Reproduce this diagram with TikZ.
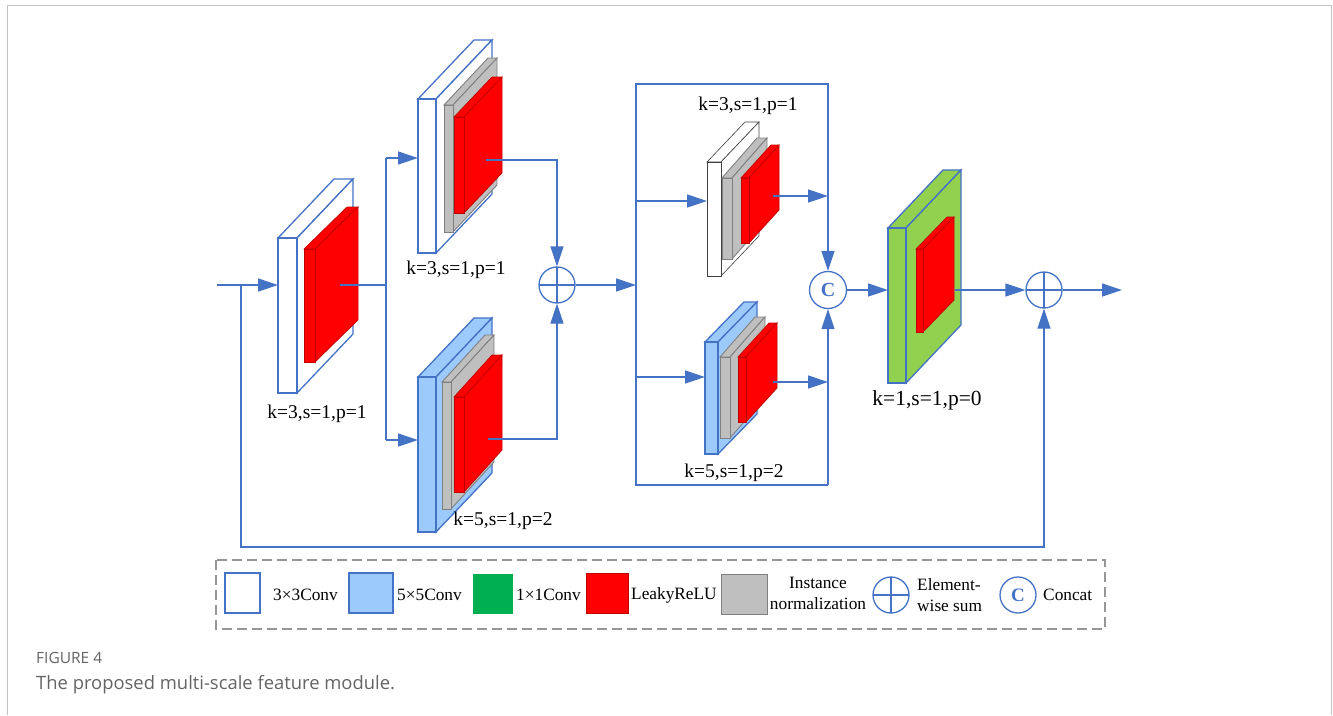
\documentclass[tikz,border=0pt]{standalone}
\usepackage{fontspec}
\setmainfont{Liberation Serif}
\newfontfamily\capfont{Open Sans}
\usetikzlibrary{arrows.meta}
\definecolor{bl}{RGB}{68,114,196}
\definecolor{lblue}{RGB}{157,202,252}
\definecolor{gfill}{RGB}{146,208,80}
\definecolor{lgreen}{RGB}{0,176,80}
\definecolor{rd}{RGB}{255,0,0}
\definecolor{rdd}{RGB}{192,0,0}
\definecolor{gr}{RGB}{191,191,191}
\definecolor{grd}{RGB}{128,128,128}
\definecolor{framec}{RGB}{195,195,195}
\definecolor{capgray}{RGB}{100,100,100}
\definecolor{dashc}{RGB}{150,150,150}
\newcommand{\blockprism}[7]{%
  \path[#7] (#1,#2) -- ({#1+#5},{#2-#6}) -- ({#3+#5},{#2-#6}) -- (#3,#2) -- cycle;
  \path[#7] (#3,#2) -- ({#3+#5},{#2-#6}) -- ({#3+#5},{#4-#6}) -- (#3,#4) -- cycle;
  \path[#7] (#1,#2) rectangle (#3,#4);
}
\tikzset{
  whiteb/.style={fill=white, draw=bl, line width=1.3pt, line join=miter},
  whitek/.style={fill=white, draw=black!75, line width=0.6pt},
  blueb/.style={fill=lblue, draw=bl, line width=1.3pt},
  grayb/.style={fill=gr, draw=grd, line width=0.9pt},
  redb/.style={fill=rd, draw=rdd, line width=0.7pt},
  greenb/.style={fill=gfill, draw=bl, line width=1.3pt},
  plain/.style={draw=bl, line width=1.3pt},
  conn/.style={plain, -{Triangle[length=20pt,width=13pt]}},
  sumnode/.style={circle, draw=bl, line width=1.3pt, minimum size=36pt, inner sep=0pt,
    path picture={\draw[bl, line width=1.3pt] (path picture bounding box.north) -- (path picture bounding box.south)
      (path picture bounding box.west) -- (path picture bounding box.east);}},
  catnode/.style={circle, draw=bl, line width=1.3pt, minimum size=37pt, inner sep=0pt,
    font=\fontsize{20}{22}\selectfont\bfseries, text=bl},
  lbl/.style={font=\fontsize{19.5}{22}\selectfont, inner sep=0pt},
  leg/.style={font=\fontsize{17.3}{21}\selectfont, inner sep=0pt},
}
\begin{document}
\begin{tikzpicture}[x=1pt, y=-1pt]
\useasboundingbox (0,0) rectangle (1333,715);
% page frame
\draw[framec, line width=1pt] (7,715) -- (7,5) -- (1331,5) -- (1331,715);

% ---- blocks ----
% first 3x3 conv
\blockprism{278}{238}{297}{393}{56}{59}{whiteb}
\blockprism{304}{249}{315}{362}{43}{42}{redb}
% top branch 3x3
\blockprism{418}{99}{436}{253}{56}{59}{whiteb}
\blockprism{444}{105}{453}{232}{44}{47}{grayb}
\blockprism{454}{117}{464}{213}{38}{40}{redb}
% bottom branch 5x5
\blockprism{418}{377}{436}{532}{56}{59}{blueb}
\blockprism{442}{382}{451}{509}{43}{47}{grayb}
\blockprism{454}{397}{464}{492}{38}{42}{redb}
% inner top 3x3
\blockprism{707}{162}{721}{276}{38}{40}{whitek}
\blockprism{722}{178}{732}{259}{35}{40}{grayb}
\blockprism{741}{178}{749}{243}{30}{33}{redb}
% inner bottom 5x5
\blockprism{705}{342}{718}{454}{39}{40}{blueb}
\blockprism{720}{357}{730}{438}{35}{40}{grayb}
\blockprism{738}{357}{746}{422}{31}{34}{redb}
% 1x1 conv
\blockprism{888}{228}{906}{383}{55}{58}{greenb}
\blockprism{916}{249}{923}{332}{31}{32}{redb}

% ---- labels ----
\node[lbl] (l1) at (317,414) {k=3,s=1,p=1};
\node[lbl] (l2) at (456,270) {k=3,s=1,p=1};
\node[lbl] (l3) at (503,521) {k=5,s=1,p=2};
\node[lbl] (l4) at (748,106) {k=3,s=1,p=1};
\node[lbl] (l5) at (734,473) {k=5,s=1,p=2};
\node[lbl, font=\fontsize{21.5}{24}\selectfont] (l6) at (927,400) {k=1,s=1,p=0};

% ---- operator nodes ----
\node[sumnode] (sum1) at (557,285) {};
\node[catnode] (cat) at (828,290) {C};
\node[sumnode] (sum2) at (1044,290) {};

% ---- coordinates ----
\coordinate (in) at (217,285);
\coordinate (skip) at (241,285);
\coordinate (skipc) at (1044,547);
\coordinate (b1in) at (278,285);
\coordinate (b1out) at (340,285);
\coordinate (split) at (386,285);
\coordinate (splitT) at (386,158);
\coordinate (splitB) at (386,440);
\coordinate (tin) at (418,158);
\coordinate (bin) at (418,440);
\coordinate (tout) at (486,160);
\coordinate (bout) at (488,439);
\coordinate (boxW) at (636,285);
\coordinate (boxNW) at (636,84);
\coordinate (boxNE) at (828,84);
\coordinate (boxSW) at (636,485);
\coordinate (boxSE) at (828,485);
\coordinate (itW) at (636,201);
\coordinate (itin) at (707,201);
\coordinate (ibW) at (636,377);
\coordinate (ibin) at (705,377);
\coordinate (itout) at (773,196);
\coordinate (itE) at (828,196);
\coordinate (ibout) at (773,382);
\coordinate (ibE) at (828,382);
\coordinate (gin) at (888,290);
\coordinate (gout) at (955,290);
\coordinate (out) at (1122,290);

% ---- connectors ----
\draw[conn] (in) -- (b1in);
\draw[conn] (skip) |- (skipc) -- (sum2.south);
\draw[plain] (b1out) -- (split);
\draw[plain] (splitT) -- (splitB);
\draw[conn] (splitT) -- (tin);
\draw[conn] (splitB) -- (bin);
\draw[conn] (tout) -| (sum1.north);
\draw[conn] (bout) -| (sum1.south);
\draw[conn] (sum1.east) -- (boxW);
\draw[conn] (boxSE) -- (boxSW) -- (boxNW) -- (boxNE) -- (cat.north);
\draw[conn] (boxSE) -- (cat.south);
\draw[conn] (itW) -- (itin);
\draw[conn] (ibW) -- (ibin);
\draw[conn] (itout) -- (itE);
\draw[conn] (ibout) -- (ibE);
\draw[conn] (cat.east) -- (gin);
\draw[conn] (gout) -- (sum2.west);
\draw[conn] (sum2.east) -- (out);

% ---- legend ----
\draw[dashc, line width=1.4pt, dash pattern=on 10pt off 5pt] (216,560) rectangle (1105,629);
\path[fill=white, draw=bl, line width=1.3pt] (225,573) rectangle (260,613);
\node[leg, anchor=west] (t33) at (273,595) {3×3Conv};
\path[fill=lblue, draw=bl, line width=1.3pt] (349,573) rectangle (393,613);
\node[leg, anchor=west] (t55) at (397,595) {5×5Conv};
\path[fill=lgreen] (473,574) rectangle (513,614);
\node[leg, anchor=west] (t11) at (516,595) {1×1Conv};
\path[fill=rd, draw=rdd, line width=0.7pt] (586,573) rectangle (628,613);
\node[leg, anchor=west] (tlr) at (631,595) {LeakyReLU};
\path[fill=gr, draw=grd, line width=1pt] (721,574) rectangle (767,614);
\node[leg, align=center] (tin2) at (818,593) {Instance\\normalization};
\node[sumnode] (lsum) at (891,595) {};
\node[leg, align=left, anchor=west] (tes) at (917,595) {Element-\\wise sum};
\node[catnode, minimum size=36pt, font=\fontsize{19}{21}\selectfont\bfseries] (lcat) at (1018,595) {C};
\node[leg, anchor=west] (tcc) at (1043,595) {Concat};

% ---- caption ----
\node[anchor=west, inner sep=0pt, text=capgray, font=\capfont\fontsize{15.5}{18}\selectfont] (fig) at (36,658) {FIGURE 4};
\node[anchor=west, inner sep=0pt, text=capgray, font=\capfont\fontsize{18.4}{21}\selectfont] (cap) at (36,685) {The proposed multi-scale feature module.};
\end{tikzpicture}
\end{document}
